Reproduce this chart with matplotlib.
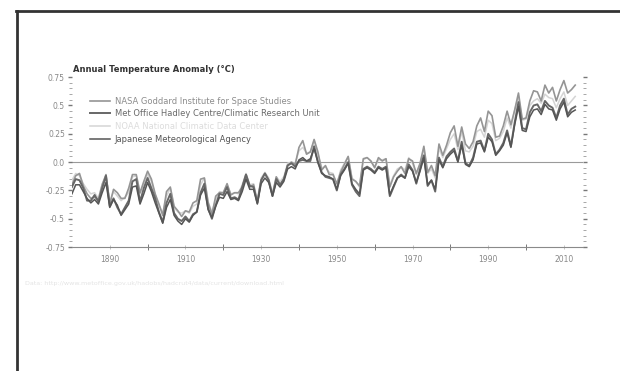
import numpy as np
import matplotlib
matplotlib.use("Agg")
import matplotlib.pyplot as plt
from matplotlib.lines import Line2D
from matplotlib.ticker import MultipleLocator, FixedLocator, NullFormatter

years = np.arange(1880, 2014)

nasa = [
    -0.20, -0.12, -0.10, -0.21, -0.28, -0.32, -0.31, -0.33, -0.20, -0.11,
    -0.37, -0.24, -0.27, -0.32, -0.32, -0.23, -0.11, -0.11, -0.27, -0.17,
    -0.08, -0.15, -0.28, -0.37, -0.47, -0.26, -0.22, -0.39, -0.43, -0.48,
    -0.43, -0.44, -0.36, -0.34, -0.15, -0.14, -0.36, -0.46, -0.30, -0.27,
    -0.27, -0.19, -0.29, -0.27, -0.27, -0.22, -0.11, -0.22, -0.20, -0.36,
    -0.16, -0.10, -0.16, -0.29, -0.13, -0.20, -0.15, -0.03, -0.00, -0.02,
    0.13, 0.19, 0.07, 0.09, 0.20, 0.09, -0.07, -0.03, -0.11, -0.11,
    -0.19, -0.09, -0.02, 0.05, -0.15, -0.17, -0.21, 0.03, 0.04, 0.01,
    -0.05, 0.04, 0.01, 0.03, -0.22, -0.13, -0.08, -0.04, -0.10, 0.03,
    0.01, -0.10, -0.01, 0.14, -0.09, -0.03, -0.12, 0.16, 0.06, 0.15,
    0.26, 0.32, 0.14, 0.31, 0.16, 0.12, 0.18, 0.32, 0.39, 0.27,
    0.45, 0.41, 0.22, 0.23, 0.32, 0.45, 0.33, 0.46, 0.61, 0.38,
    0.39, 0.54, 0.63, 0.62, 0.54, 0.68, 0.61, 0.66, 0.54, 0.64,
    0.72, 0.61, 0.64, 0.68,
]

hadley = [
    -0.22, -0.15, -0.16, -0.23, -0.34, -0.34, -0.29, -0.35, -0.23, -0.12,
    -0.39, -0.32, -0.40, -0.46, -0.40, -0.34, -0.17, -0.15, -0.35, -0.23,
    -0.14, -0.23, -0.32, -0.44, -0.53, -0.36, -0.28, -0.45, -0.50, -0.52,
    -0.48, -0.52, -0.46, -0.44, -0.27, -0.19, -0.41, -0.50, -0.38, -0.28,
    -0.29, -0.22, -0.32, -0.31, -0.33, -0.22, -0.11, -0.21, -0.22, -0.36,
    -0.16, -0.10, -0.16, -0.30, -0.15, -0.20, -0.15, -0.03, -0.01, -0.04,
    0.01, 0.02, 0.01, 0.01, 0.14, 0.00, -0.09, -0.13, -0.14, -0.15,
    -0.25, -0.11, -0.06, 0.00, -0.20, -0.26, -0.30, -0.06, -0.04, -0.06,
    -0.09, -0.04, -0.06, -0.04, -0.30, -0.22, -0.14, -0.11, -0.14, -0.02,
    -0.07, -0.19, -0.06, 0.06, -0.21, -0.16, -0.26, 0.04, -0.04, 0.05,
    0.09, 0.12, 0.01, 0.18, -0.01, -0.03, 0.04, 0.18, 0.19, 0.10,
    0.25, 0.20, 0.07, 0.11, 0.17, 0.28, 0.14, 0.35, 0.53, 0.30,
    0.29, 0.44, 0.50, 0.51, 0.45, 0.54, 0.50, 0.48, 0.39, 0.50,
    0.56, 0.42, 0.47, 0.49,
]

noaa = [
    -0.16, -0.10, -0.12, -0.19, -0.24, -0.28, -0.27, -0.32, -0.19, -0.12,
    -0.35, -0.26, -0.30, -0.34, -0.31, -0.27, -0.13, -0.12, -0.28, -0.19,
    -0.11, -0.17, -0.29, -0.38, -0.45, -0.30, -0.23, -0.40, -0.44, -0.45,
    -0.43, -0.45, -0.39, -0.37, -0.20, -0.14, -0.35, -0.44, -0.33, -0.26,
    -0.27, -0.20, -0.28, -0.27, -0.28, -0.20, -0.10, -0.20, -0.19, -0.33,
    -0.14, -0.09, -0.14, -0.27, -0.13, -0.17, -0.13, -0.01, 0.00, -0.01,
    0.10, 0.13, 0.08, 0.09, 0.19, 0.07, -0.05, -0.04, -0.09, -0.10,
    -0.20, -0.07, -0.01, 0.05, -0.14, -0.17, -0.22, 0.02, 0.04, 0.01,
    -0.04, 0.02, 0.02, 0.03, -0.20, -0.12, -0.06, -0.04, -0.07, 0.04,
    -0.01, -0.11, -0.02, 0.12, -0.10, -0.06, -0.14, 0.12, 0.04, 0.12,
    0.20, 0.25, 0.11, 0.27, 0.10, 0.09, 0.14, 0.27, 0.29, 0.22,
    0.37, 0.34, 0.19, 0.21, 0.27, 0.39, 0.30, 0.46, 0.58, 0.37,
    0.38, 0.50, 0.54, 0.56, 0.52, 0.60, 0.57, 0.56, 0.48, 0.56,
    0.62, 0.50, 0.54, 0.58,
]

jma = [
    -0.28, -0.20, -0.20, -0.26, -0.32, -0.36, -0.33, -0.37, -0.27, -0.18,
    -0.40, -0.33, -0.38, -0.47, -0.42, -0.37, -0.22, -0.21, -0.37, -0.28,
    -0.18, -0.26, -0.36, -0.45, -0.54, -0.40, -0.33, -0.47, -0.52, -0.55,
    -0.50, -0.53, -0.47, -0.44, -0.29, -0.23, -0.42, -0.49, -0.39, -0.31,
    -0.32, -0.26, -0.33, -0.32, -0.34, -0.26, -0.15, -0.24, -0.24, -0.37,
    -0.19, -0.14, -0.18, -0.30, -0.18, -0.22, -0.17, -0.06, -0.04, -0.06,
    0.02, 0.04, 0.01, 0.03, 0.12, 0.00, -0.10, -0.12, -0.13, -0.15,
    -0.24, -0.12, -0.07, -0.01, -0.19, -0.24, -0.28, -0.07, -0.05, -0.07,
    -0.10, -0.05, -0.07, -0.05, -0.29, -0.21, -0.14, -0.12, -0.14, -0.04,
    -0.08, -0.18, -0.08, 0.04, -0.20, -0.16, -0.24, 0.02, -0.05, 0.03,
    0.07, 0.10, 0.00, 0.15, -0.02, -0.04, 0.02, 0.16, 0.17, 0.09,
    0.22, 0.18, 0.06, 0.10, 0.15, 0.26, 0.13, 0.33, 0.49, 0.28,
    0.27, 0.40, 0.46, 0.47, 0.42, 0.51, 0.47, 0.46, 0.37, 0.47,
    0.53, 0.40, 0.44, 0.46,
]

labels = [
    "NASA Goddard Institute for Space Studies",
    "Met Office Hadley Centre/Climatic Research Unit",
    "NOAA National Climatic Data Center",
    "Japanese Meteorological Agency",
]
series = [nasa, hadley, noaa, jma]
line_colors = ["#959595", "#676767", "#d4d4d4", "#555555"]
text_colors = ["#8c8c8c", "#6a6a6a", "#dcdcdc", "#555555"]
widths = [1.2, 1.4, 1.1, 1.1]

fig = plt.figure(figsize=(6.2, 3.71), dpi=100)
ax = fig.add_axes([0.116, 0.334, 0.824, 0.458])

# NOAA drawn first so the darker lines sit on top
for i in [2, 0, 1, 3]:
    ax.plot(years, series[i], color=line_colors[i], lw=widths[i], label=labels[i])

ax.axhline(0, color="#9a9a9a", lw=0.8, zorder=0)

ax.set_xlim(1880, 2015)
ax.set_ylim(-0.75, 0.75)

for s in ["top", "left", "right"]:
    ax.spines[s].set_visible(False)
ax.spines["bottom"].set_color("#8a8a8a")
ax.spines["bottom"].set_linewidth(0.8)

# x: unlabelled ticks every 20 years, labels at 1890, 1910, ...
ax.xaxis.set_major_locator(FixedLocator([1900, 1920, 1940, 1960, 1980, 2000]))
ax.xaxis.set_major_formatter(NullFormatter())
ax.xaxis.set_minor_locator(FixedLocator([1890, 1910, 1930, 1950, 1970, 1990, 2010]))
ax.set_xticklabels(["1890", "1910", "1930", "1950", "1970", "1990", "2010"], minor=True)
ax.tick_params(axis="x", which="major", direction="inout", length=4, width=0.7, color="#777777")
ax.tick_params(axis="x", which="minor", direction="inout", length=3, width=0.6, color="#bbbbbb",
               labelsize=5.5, labelcolor="#888888", pad=4)

ax.yaxis.set_major_locator(MultipleLocator(0.25))
ax.yaxis.set_minor_locator(MultipleLocator(0.05))
ax.set_yticks([-0.75, -0.5, -0.25, 0.0, 0.25, 0.5, 0.75])
ax.set_yticklabels(["-0.75", "-0.5", "-0.25", "0.0", "0.25", "0.5", "0.75"])
ax.tick_params(axis="y", which="both", left=True, right=True, direction="out",
               color="#777777", labelsize=5.5, labelcolor="#888888", pad=2)
ax.tick_params(axis="y", which="major", length=3, width=1.0)
ax.tick_params(axis="y", which="minor", length=2, width=0.6, color="#999999")

fig.text(0.118, 0.812, "Annual Temperature Anomaly (°C)", fontsize=6.0,
         fontweight="bold", color="#333333", ha="left", va="center")

handles = [Line2D([], [], color=line_colors[i], lw=widths[i]) for i in range(4)]
ax.legend(handles, labels, loc="upper left", bbox_to_anchor=(0.02, 0.93),
          frameon=False, fontsize=6, handlelength=2.4, handletextpad=0.6,
          labelspacing=0.45, labelcolor=text_colors)

fig.text(0.04, 0.237,
         "Data: http://www.metoffice.gov.uk/hadobs/hadcrut4/data/current/download.html",
         fontsize=4.6, color="#e4e4e4", ha="left", va="center")

# dark frame along top and left edges
fig.add_artist(Line2D([0.026, 1.0], [0.970, 0.970], color="#333333", lw=2.0,
                      transform=fig.transFigure))
fig.add_artist(Line2D([0.027, 0.027], [0.0, 0.970], color="#333333", lw=2.0,
                      transform=fig.transFigure))

fig.savefig("out.png", dpi=100, facecolor="white")
